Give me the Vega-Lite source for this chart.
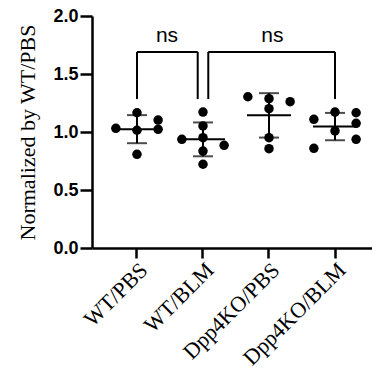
{
  "$schema": "https://vega.github.io/schema/vega-lite/v6.json",
  "autosize": "none",
  "width": 280,
  "height": 232,
  "padding": {"left": 92, "top": 16, "right": 0, "bottom": 121},
  "background": "white",
  "data": {
    "values": [
      {"group": "WT/PBS", "lane": "C", "value": 1.166},
      {"group": "WT/PBS", "lane": "R", "value": 1.103},
      {"group": "WT/PBS", "lane": "L", "value": 1.032},
      {"group": "WT/PBS", "lane": "C", "value": 1.015},
      {"group": "WT/PBS", "lane": "R", "value": 1.023},
      {"group": "WT/PBS", "lane": "C", "value": 0.808},
      {"group": "WT/BLM", "lane": "C", "value": 1.172},
      {"group": "WT/BLM", "lane": "C", "value": 1.052},
      {"group": "WT/BLM", "lane": "L", "value": 0.937},
      {"group": "WT/BLM", "lane": "C", "value": 0.951},
      {"group": "WT/BLM", "lane": "R", "value": 0.885},
      {"group": "WT/BLM", "lane": "C", "value": 0.836},
      {"group": "WT/BLM", "lane": "C", "value": 0.722},
      {"group": "Dpp4KO/PBS", "lane": "L", "value": 1.304},
      {"group": "Dpp4KO/PBS", "lane": "C", "value": 1.287},
      {"group": "Dpp4KO/PBS", "lane": "R", "value": 1.261},
      {"group": "Dpp4KO/PBS", "lane": "C", "value": 1.201},
      {"group": "Dpp4KO/PBS", "lane": "C", "value": 0.951},
      {"group": "Dpp4KO/PBS", "lane": "C", "value": 0.856},
      {"group": "Dpp4KO/BLM", "lane": "C", "value": 1.172},
      {"group": "Dpp4KO/BLM", "lane": "R", "value": 1.166},
      {"group": "Dpp4KO/BLM", "lane": "L", "value": 1.109},
      {"group": "Dpp4KO/BLM", "lane": "R", "value": 1.075},
      {"group": "Dpp4KO/BLM", "lane": "C", "value": 1.009},
      {"group": "Dpp4KO/BLM", "lane": "R", "value": 0.937},
      {"group": "Dpp4KO/BLM", "lane": "L", "value": 0.859}
    ]
  },
  "encoding": {
    "x": {
      "field": "group",
      "type": "nominal",
      "scale": {
        "domain": ["WT/PBS", "WT/BLM", "Dpp4KO/PBS", "Dpp4KO/BLM"],
        "paddingInner": 0,
        "paddingOuter": 0.121,
        "align": 0.75
      },
      "axis": {
        "title": null,
        "domainWidth": 2.5,
        "tickWidth": 2.5,
        "tickSize": 10,
        "labelAngle": -45,
        "labelAlign": "right",
        "labelBaseline": "top",
        "labelPadding": 1,
        "labelFont": "Liberation Serif",
        "labelFontSize": 22
      }
    },
    "y": {
      "field": "value",
      "type": "quantitative",
      "scale": {"domain": [0, 2], "nice": false, "zero": true},
      "axis": {
        "title": "Normalized by WT/PBS",
        "titleFont": "Liberation Serif",
        "titleFontSize": 22,
        "titleFontWeight": "normal",
        "titlePadding": 13,
        "values": [0, 0.5, 1, 1.5, 2],
        "format": ".1f",
        "labelFont": "Liberation Sans",
        "labelFontSize": 18,
        "labelFontWeight": "bold",
        "labelPadding": 2,
        "domainWidth": 2.5,
        "tickWidth": 2.5,
        "tickSize": 12
      }
    }
  },
  "layer": [
    {
      "mark": {"type": "circle", "size": 90, "color": "black", "opacity": 1},
      "encoding": {
        "xOffset": {
          "field": "lane",
          "type": "nominal",
          "scale": {"domain": ["L", "C", "R"], "paddingInner": 0, "paddingOuter": 0.5625}
        }
      }
    },
    {
      "mark": {"type": "errorbar", "extent": "stdev", "color": "black", "thickness": 2, "ticks": {"size": 20}},
      "encoding": {"y": {"field": "value", "type": "quantitative"}}
    },
    {
      "mark": {"type": "tick", "color": "black", "size": 44, "thickness": 2},
      "encoding": {"y": {"aggregate": "mean", "field": "value", "type": "quantitative"}}
    },
    {
      "data": {"values": [{"from": "WT/PBS", "to": "WT/BLM", "top": 1.69, "foot": 1.284, "label": "ns"}]},
      "layer": [
        {
          "mark": {"type": "rule", "color": "black", "strokeWidth": 2},
          "encoding": {
            "x": {"field": "from", "type": "nominal", "bandPosition": 0.5},
            "y": {"field": "foot", "type": "quantitative"},
            "y2": {"field": "top"}
          }
        },
        {
          "mark": {"type": "rule", "color": "black", "strokeWidth": 2},
          "encoding": {
            "x": {"field": "to", "type": "nominal", "bandPosition": 0.42},
            "y": {"field": "foot", "type": "quantitative"},
            "y2": {"field": "top"}
          }
        },
        {
          "mark": {"type": "rule", "color": "black", "strokeWidth": 2},
          "encoding": {
            "x": {"field": "from", "type": "nominal", "bandPosition": 0.5},
            "x2": {"field": "to", "bandPosition": 0.42},
            "y": {"field": "top", "type": "quantitative"}
          }
        },
        {
          "mark": {"type": "text", "font": "Liberation Sans", "fontSize": 21, "color": "black", "baseline": "middle", "dy": -16},
          "encoding": {
            "x": {"field": "from", "type": "nominal", "bandPosition": 0.955},
            "y": {"field": "top", "type": "quantitative"},
            "text": {"field": "label"}
          }
        }
      ]
    },
    {
      "data": {"values": [{"from": "WT/BLM", "to": "Dpp4KO/BLM", "top": 1.69, "foot": 1.284, "label": "ns"}]},
      "layer": [
        {
          "mark": {"type": "rule", "color": "black", "strokeWidth": 2},
          "encoding": {
            "x": {"field": "from", "type": "nominal", "bandPosition": 0.58},
            "y": {"field": "foot", "type": "quantitative"},
            "y2": {"field": "top"}
          }
        },
        {
          "mark": {"type": "rule", "color": "black", "strokeWidth": 2},
          "encoding": {
            "x": {"field": "to", "type": "nominal", "bandPosition": 0.5},
            "y": {"field": "foot", "type": "quantitative"},
            "y2": {"field": "top"}
          }
        },
        {
          "mark": {"type": "rule", "color": "black", "strokeWidth": 2},
          "encoding": {
            "x": {"field": "from", "type": "nominal", "bandPosition": 0.58},
            "x2": {"field": "to", "bandPosition": 0.5},
            "y": {"field": "top", "type": "quantitative"}
          }
        },
        {
          "mark": {"type": "text", "font": "Liberation Sans", "fontSize": 21, "color": "black", "baseline": "middle", "dy": -16},
          "encoding": {
            "x": {"field": "from", "type": "nominal", "bandPosition": 1.55},
            "y": {"field": "top", "type": "quantitative"},
            "text": {"field": "label"}
          }
        }
      ]
    }
  ],
  "config": {
    "view": {"stroke": null},
    "axis": {
      "grid": false,
      "domainColor": "black",
      "tickColor": "black",
      "labelColor": "black",
      "titleColor": "black"
    }
  }
}
